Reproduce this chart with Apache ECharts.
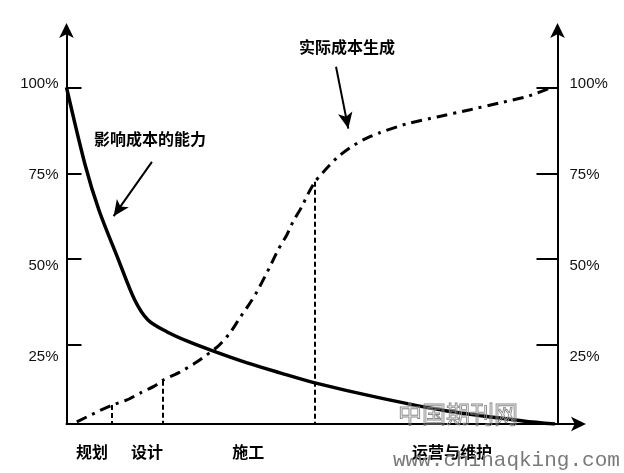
<!DOCTYPE html>
<html>
<head>
<meta charset="utf-8">
<script src="https://cdn.jsdelivr.net/npm/echarts@6/dist/echarts.min.js"></script>
<style>html,body{margin:0;padding:0;background:#fff}#c{width:624px;height:473px}</style>
</head>
<body>
<div id="c"></div>
<script>
// ---- data (x: share of project life, %, y: %) ----
const stageNames = ['规划', '设计', '施工', '运营与维护'];
const stageLabelX = [5.2, 16.4, 37.0, 78.5];
const yTickValues = [25, 50, 75, 100];

const influenceX = [0, 3.8, 6.6, 10.5, 13.9, 16.6, 20.5, 24.5, 29.8, 36.8, 43.5, 50.8, 63.8, 77.5, 93.0, 99.5];
const influenceY = [100, 77.4, 64.3, 50.1, 38.1, 32.3, 28.8, 26.2, 23.3, 19.8, 16.9, 13.9, 9.6, 5.8, 2.9, 2.0];

const costX = [2.1, 6.2, 9.3, 12.3, 15.0, 18.0, 19.7, 23.1, 26.6, 30.9, 33.3, 35.3, 37.0, 38.8, 41.4, 43.1, 44.9, 46.1, 47.9, 49.2, 50.6, 53.1, 55.3, 57.7, 60.4, 63.8, 69.3, 75.5, 82.2, 88.3, 93.8, 98.1];
const costY = [2.6, 5.5, 7.5, 9.0, 11.0, 13.1, 14.8, 17.1, 20.1, 24.7, 28.5, 32.9, 36.4, 40.5, 47.7, 52.7, 57.1, 60.8, 65.2, 69.0, 72.5, 76.6, 79.8, 82.4, 84.7, 86.8, 89.4, 91.4, 93.5, 95.5, 97.3, 99.6];

const stageBoundX = [9.3, 19.6, 50.6];
const stageBoundY = [7.5, 14.6, 72.5];

const annInfluence = '影响成本的能力';
const annCost = '实际成本生成';

// ---- chart ----
const chart = echarts.init(document.getElementById('c'), null, {renderer: 'canvas'});
const CJK = '"Noto Sans CJK SC", sans-serif';
const NUM = '"Liberation Sans", Arial, sans-serif';
const axisMin = 2, axisMax = 117;

function zip(a, b) { return a.map((v, i) => [v, b[i]]); }

const mainAxis = (pos, tickLen, offset) => ({
  type: 'value', position: pos, min: axisMin, max: axisMax, offset: offset,
  axisLine: {show: true, onZero: false, symbol: ['none', 'arrow'], symbolSize: [11, 15], symbolOffset: [0, 6],
             lineStyle: {color: '#000', width: 2}},
  axisTick: {show: true, inside: true, length: tickLen, customValues: yTickValues, lineStyle: {color: '#000', width: 2}},
  axisLabel: {show: false},
  splitLine: {show: false}
});
const labelAxis = (pos, margin, offset) => ({
  type: 'value', position: pos, min: 6.42, max: 115.14, offset: offset,
  axisLine: {show: false}, axisTick: {show: false}, splitLine: {show: false},
  axisLabel: {show: true, customValues: yTickValues, formatter: '{value}%', margin: margin,
              color: '#111', fontSize: 15, fontFamily: NUM}
});

const option = {
  animation: false,
  backgroundColor: '#fff',
  grid: {left: 66.5, right: 42, top: 29, bottom: 49, containLabel: false},
  xAxis: {
    type: 'value', min: 0, max: 105,
    axisLine: {show: true, onZero: false, symbol: ['none', 'arrow'], symbolSize: [11, 15], symbolOffset: [0, 4],
               lineStyle: {color: '#000', width: 2}},
    axisTick: {show: false},
    splitLine: {show: false},
    axisLabel: {
      show: true, customValues: stageLabelX, margin: 20,
      formatter: v => { const i = stageLabelX.findIndex(p => Math.abs(p - v) < 1e-6); return i >= 0 ? stageNames[i] : ''; },
      color: '#000', fontSize: 16, fontWeight: 'bold', fontFamily: CJK
    }
  },
  yAxis: [
    mainAxis('left', 15, 0),
    mainAxis('right', 21, -24.5),
    labelAxis('left', 8, 0),
    labelAxis('right', 12, -24.5)
  ],
  series: [
    {
      name: annInfluence, type: 'line', yAxisIndex: 0, data: zip(influenceX, influenceY),
      showSymbol: false, smooth: 0.3, silent: true,
      lineStyle: {color: '#000', width: 3.5},
      markLine: {
        silent: true, animation: false, label: {show: false},
        lineStyle: {color: '#000', width: 2, type: 'solid'},
        symbol: ['none', 'arrow'], symbolSize: [11, 16],
        data: [
          [{coord: [17.4, 78.3]}, {coord: [9.6, 62.5]}],
          [{coord: [54.9, 106.0]}, {coord: [57.4, 88.0]}]
        ]
      }
    },
    {
      name: annCost, type: 'line', yAxisIndex: 0, data: zip(costX, costY),
      showSymbol: false, smooth: 0.2, silent: true,
      lineStyle: {color: '#000', width: 3, type: [11, 6, 3, 6]},
      markLine: {
        silent: true, animation: false, label: {show: false},
        symbol: ['none', 'none'],
        lineStyle: {color: '#000', width: 2, type: [5, 3]},
        data: stageBoundX.map((x, i) => [{coord: [x, stageBoundY[i]]}, {coord: [x, axisMin]}])
      }
    }
  ],
  graphic: [
    {type: 'text', x: 150, y: 139, style: {text: annInfluence, font: 'bold 16px ' + CJK, fill: '#000', align: 'center', verticalAlign: 'middle'}},
    {type: 'text', x: 347, y: 47, style: {text: annCost, font: 'bold 16px ' + CJK, fill: '#000', align: 'center', verticalAlign: 'middle'}},
    {type: 'text', x: 458, y: 414, z: 10, style: {text: '中国期刊网', font: '24px ' + CJK, fill: 'rgba(0,0,0,0)', stroke: '#8a8a8a', lineWidth: 0.9, align: 'center', verticalAlign: 'middle'}},
    {type: 'text', x: 393, y: 460, z: 10, style: {text: 'www.chinaqking.com', font: '21px "Liberation Mono", monospace', fill: '#7a7a7a', align: 'left', verticalAlign: 'middle'}}
  ]
};
chart.setOption(option);
</script>
</body>
</html>
